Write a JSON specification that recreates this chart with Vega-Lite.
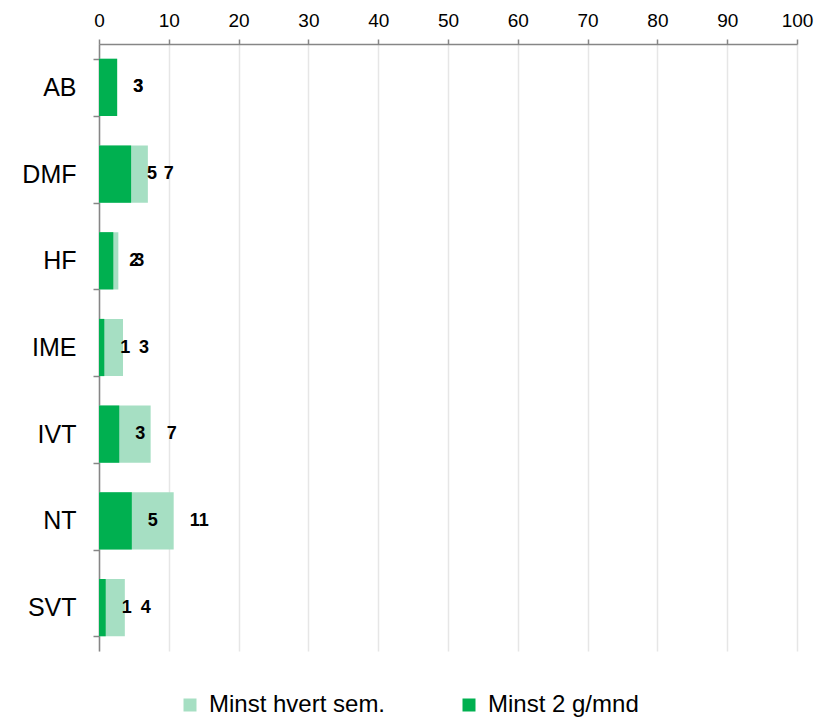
{
  "$schema": "https://vega.github.io/schema/vega-lite/v6.json",
  "width": 698,
  "height": 607,
  "autosize": {"type": "none"},
  "padding": {"left": 99, "top": 44, "right": 32, "bottom": 70},
  "background": "white",
  "config": {
    "font": "Liberation Sans",
    "view": {"stroke": null}
  },
  "data": {
    "values": [
      {"fak": "AB", "serie": "Minst hvert sem.", "verdi": 2.6},
      {"fak": "DMF", "serie": "Minst hvert sem.", "verdi": 7.0},
      {"fak": "HF", "serie": "Minst hvert sem.", "verdi": 2.77},
      {"fak": "IME", "serie": "Minst hvert sem.", "verdi": 3.44},
      {"fak": "IVT", "serie": "Minst hvert sem.", "verdi": 7.4},
      {"fak": "NT", "serie": "Minst hvert sem.", "verdi": 10.7},
      {"fak": "SVT", "serie": "Minst hvert sem.", "verdi": 3.7},
      {"fak": "AB", "serie": "Minst 2 g/mnd", "verdi": 2.6},
      {"fak": "DMF", "serie": "Minst 2 g/mnd", "verdi": 4.6},
      {"fak": "HF", "serie": "Minst 2 g/mnd", "verdi": 2.05},
      {"fak": "IME", "serie": "Minst 2 g/mnd", "verdi": 0.76},
      {"fak": "IVT", "serie": "Minst 2 g/mnd", "verdi": 2.9},
      {"fak": "NT", "serie": "Minst 2 g/mnd", "verdi": 4.7},
      {"fak": "SVT", "serie": "Minst 2 g/mnd", "verdi": 0.96}
    ]
  },
  "encoding": {
    "y": {
      "field": "fak",
      "type": "nominal",
      "sort": null,
      "title": null,
      "scale": {"paddingInner": 0.34, "paddingOuter": 0.17},
      "axis": {
        "domainColor": "#868686",
        "domainWidth": 1.5,
        "tickColor": "#868686",
        "tickWidth": 1.5,
        "tickSize": 6,
        "tickBand": "extent",
        "labelFontSize": 25,
        "labelColor": "#000000",
        "labelPadding": 17
      }
    },
    "x": {
      "field": "verdi",
      "type": "quantitative",
      "title": null,
      "stack": null,
      "scale": {"domain": [0, 100], "nice": false},
      "axis": {
        "orient": "top",
        "values": [0, 10, 20, 30, 40, 50, 60, 70, 80, 90, 100],
        "domainColor": "#868686",
        "domainWidth": 1.5,
        "tickColor": "#868686",
        "tickWidth": 1.5,
        "tickSize": 5,
        "labelFontSize": 19,
        "labelColor": "#000000",
        "labelPadding": 9,
        "labelFlush": false,
        "labelOverlap": false,
        "grid": true,
        "gridColor": "#e6e6e6",
        "gridWidth": 1.5
      }
    }
  },
  "layer": [
    {
      "mark": {"type": "bar"},
      "encoding": {
        "color": {
          "field": "serie",
          "type": "nominal",
          "scale": {
            "domain": ["Minst hvert sem.", "Minst 2 g/mnd"],
            "range": ["#a6dfc3", "#00b050"]
          },
          "legend": {
            "title": null,
            "orient": "none",
            "direction": "horizontal",
            "legendX": 79,
            "legendY": 649,
            "symbolType": "square",
            "symbolSize": 169,
            "symbolStrokeWidth": 0,
            "symbolOpacity": 1,
            "labelFontSize": 24,
            "labelColor": "#000000",
            "labelOffset": 7,
            "labelLimit": 300,
            "columnPadding": 71,
            "padding": 0
          }
        }
      }
    },
    {
      "mark": {
        "type": "text",
        "align": "left",
        "baseline": "middle",
        "dx": 16,
        "fontSize": 18,
        "fontWeight": "bold",
        "color": "#000000"
      },
      "encoding": {
        "text": {"field": "verdi", "type": "quantitative", "format": ".0f"}
      }
    }
  ]
}
